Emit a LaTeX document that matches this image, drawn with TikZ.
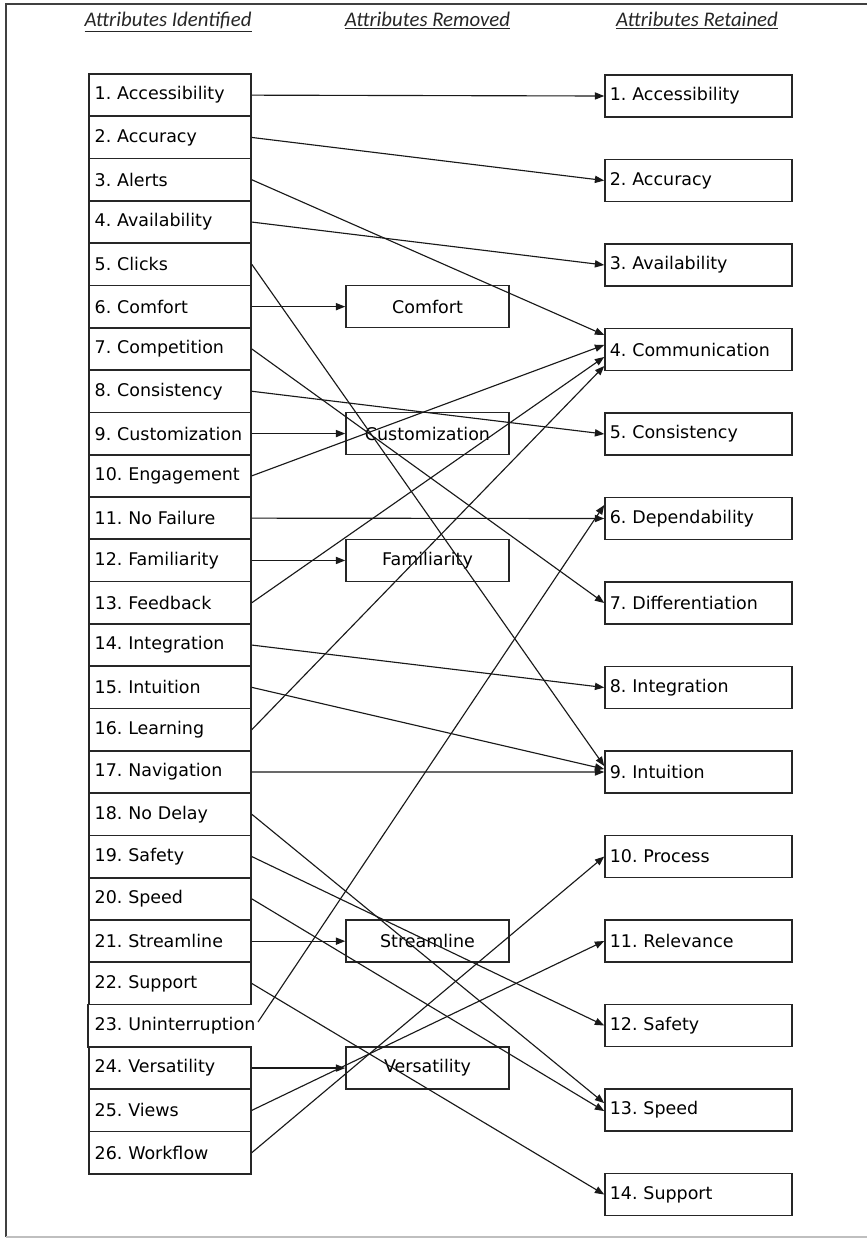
\documentclass[tikz,border=0pt]{standalone}
\usepackage{fontspec}
\setmainfont{DejaVu Sans}
\newfontfamily\hdrfont{Carlito}
\usetikzlibrary{arrows.meta}
\frenchspacing
\tikzset{
  boxfont/.style={font=\frenchspacing\fontsize{13.1pt}{15pt}\selectfont},
  leftbox/.style={boxfont, draw=black!85, line width=1.2pt, minimum height=31.7pt,
    text width=113pt, inner xsep=4.25pt, inner ysep=0pt, align=left, anchor=center},
  leftnobox/.style={leftbox, draw=none},
  midbox/.style={boxfont, draw=black!85, line width=1.2pt, minimum height=31.5pt,
    minimum width=122.25pt, inner sep=0pt, align=center},
  rightbox/.style={boxfont, draw=black!85, line width=1.2pt, minimum height=31.5pt,
    text width=133pt, inner xsep=3.6pt, inner ysep=0pt, align=left},
  hdr/.style={font=\hdrfont\itshape\fontsize{15.6pt}{18pt}\selectfont, anchor=base, text=black!85},
  conn/.style={draw=black!90, line width=0.85pt, -{Triangle[length=7pt,width=5.4pt]}},
}
\begin{document}
\begin{tikzpicture}[x=0.75pt, y=-0.75pt]
\useasboundingbox (0,0) rectangle (867,1239);
% frame
\draw[line width=1.3pt, black!75] (875,4) -- (6,4) -- (6,1237);
\draw[line width=1.6pt, black!25] (6,1237) -- (875,1237);

% headers
\node[hdr] (h1) at (168,26.5) {\underline{Attributes Identified}};
\node[hdr] (h2) at (427.5,26.5) {\underline{Attributes Removed}};
\node[hdr] (h3) at (697,26.5) {\underline{Attributes Retained}};

% left column
\node[leftbox] (l1)  at (170, 95.15) {1. Accessibility};
\node[leftbox] (l2)  at (170,137.45) {2. Accuracy};
\node[leftbox] (l3)  at (170,179.75) {3. Alerts};
\node[leftbox] (l4)  at (170,222.05) {4. Availability};
\node[leftbox] (l5)  at (170,264.35) {5. Clicks};
\node[leftbox] (l6)  at (170,306.65) {6. Comfort};
\node[leftbox] (l7)  at (170,348.95) {7. Competition};
\node[leftbox] (l8)  at (170,391.25) {8. Consistency};
\node[leftbox] (l9)  at (170,433.55) {9. Customization};
\node[leftbox] (l10) at (170,475.85) {10. Engagement};
\node[leftbox] (l11) at (170,518.15) {11. No Failure};
\node[leftbox] (l12) at (170,560.45) {12. Familiarity};
\node[leftbox] (l13) at (170,602.75) {13. Feedback};
\node[leftbox] (l14) at (170,645.05) {14. Integration};
\node[leftbox] (l15) at (170,687.35) {15. Intuition};
\node[leftbox] (l16) at (170,729.65) {16. Learning};
\node[leftbox] (l17) at (170,771.95) {17. Navigation};
\node[leftbox] (l18) at (170,814.25) {18. No Delay};
\node[leftbox] (l19) at (170,856.55) {19. Safety};
\node[leftbox] (l20) at (170,898.85) {20. Speed};
\node[leftbox] (l21) at (170,941.15) {21. Streamline};
\node[leftbox] (l22) at (170,983.45) {22. Support};
\node[leftnobox] (l23) at (170,1025.75) {\mbox{23. Uninterruption}};
\node[leftbox] (l24) at (170,1068.05) {24. Versatility};
\node[leftbox] (l25) at (170,1110.35) {25. Views};
\node[leftbox] (l26) at (170,1152.65) {26. Workflow};
\draw[black!85, line width=1.2pt] (l23.north west) -- (l23.south west);
\coordinate (u23) at (258,1022);

% middle column
\node[midbox] (mcomfort) at (427.5,306.65) {Comfort};
\node[midbox] (mcustom)  at (427.5,433.55) {Customization};
\node[midbox] (mfamil)   at (427.5,560.45) {Familiarity};
\node[midbox] (mstream)  at (427.5,941.15) {Streamline};
\node[midbox] (mversa)   at (427.5,1068.05) {Versatility};

% right column
\node[rightbox] (r1)  at (698.5,  96.0) {1. Accessibility};
\node[rightbox] (r2)  at (698.5, 180.5) {2. Accuracy};
\node[rightbox] (r3)  at (698.5, 265.0) {3. Availability};
\node[rightbox] (r4)  at (698.5, 349.5) {4. Communication};
\node[rightbox] (r5)  at (698.5, 434.0) {5. Consistency};
\node[rightbox] (r6)  at (698.5, 518.5) {6. Dependability};
\node[rightbox] (r7)  at (698.5, 603.0) {7. Differentiation};
\node[rightbox] (r8)  at (698.5, 687.5) {8. Integration};
\node[rightbox] (r9)  at (698.5, 772.0) {9. Intuition};
\node[rightbox] (r10) at (698.5, 856.5) {10. Process};
\node[rightbox] (r11) at (698.5, 941.0) {11. Relevance};
\node[rightbox] (r12) at (698.5,1025.5) {12. Safety};
\node[rightbox] (r13) at (698.5,1110.0) {13. Speed};
\node[rightbox] (r14) at (698.5,1194.5) {14. Support};

% connectors
\draw[conn] (l1.east) -- (r1.west);
\draw[conn] (l2.east) -- (r2.west);
\draw[conn] (l3.east) -- ([yshift=10.9pt]r4.west);
\draw[conn] (l4.east) -- (r3.west);
\draw[conn] (l5.east) -- ([yshift=4.5pt]r9.west);
\draw[conn] (l6.east) -- (mcomfort.west);
\draw[conn] (l7.east) -- (r7.west);
\draw[conn] (l8.east) -- (r5.west);
\draw[conn] (l9.east) -- (mcustom.west);
\draw[conn] (l10.east) -- ([yshift=3.4pt]r4.west);
\draw[conn] (l11.east) -- (r6.west);
\draw[conn] (l12.east) -- (mfamil.west);
\draw[conn] (l13.east) -- ([yshift=-5.6pt]r4.west);
\draw[conn] (l14.east) -- (r8.west);
\draw[conn] (l15.east) -- ([yshift=2.2pt]r9.west);
\draw[conn] (l16.east) -- ([yshift=-12.4pt]r4.west);
\draw[conn] (l17.east) -- (r9.west);
\draw[conn] (l18.east) -- ([yshift=5.2pt]r13.west);
\draw[conn] (l19.east) -- (r12.west);
\draw[conn] (l20.east) -- ([yshift=-0.8pt]r13.west);
\draw[conn] (l21.east) -- (mstream.west);
\draw[conn] (l22.east) -- (r14.west);
\draw[conn] (u23) -- ([yshift=10.1pt]r6.west);
\draw[conn] (l24.east) -- (mversa.west);
\draw[conn] (l25.east) -- (r11.west);
\draw[conn] (l26.east) -- (r10.west);
\end{tikzpicture}
\end{document}
